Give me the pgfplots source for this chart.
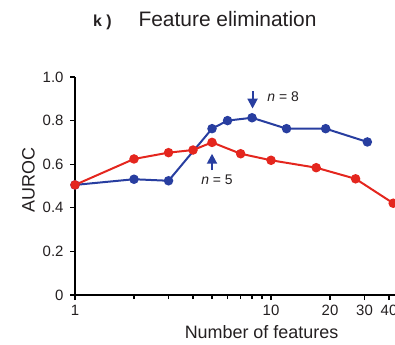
\documentclass[border=0pt]{standalone}
\usepackage{pgfplots}
\pgfplotsset{compat=1.18}
\usepackage{fontspec}
\setmainfont{Liberation Sans}
\usetikzlibrary{arrows.meta}
\definecolor{myred}{RGB}{228,38,30}
\definecolor{myblue}{RGB}{40,62,160}
\definecolor{txt}{RGB}{35,31,32}
\begin{document}
\begin{tikzpicture}[x=1bp,y=1bp]
\begin{axis}[
  at={(75bp,50bp)}, anchor=south west,
  scale only axis, width=320.2bp, height=218bp,
  xmode=log, xmin=1, xmax=43, ymin=0, ymax=1,
  axis lines*=left,
  axis line style={line width=1.5bp, -},
  xtick={1,10,20,30,40}, xticklabels={1,10,20,30,40},
  minor xtick={2,3,4,5,6,7,8,9},
  ytick={0,0.2,0.4,0.6,0.8,1.0}, yticklabels={0,0.2,0.4,0.6,0.8,1.0},
  tick align=outside, major tick length=5bp, minor tick length=4bp,
  every tick/.style={line width=1.2bp, black},
  minor tick style={line width=1.2bp, black},
  major tick style={line width=1.2bp, black},
  ticklabel style={font=\fontsize{15}{15}\selectfont, text=txt},
  /pgf/number format/assume math mode=true,
  xticklabel style={yshift=-2bp},
  yticklabel style={xshift=-3bp},
]
\addplot[myblue, line width=2bp, mark=*, mark size=3.7bp, mark options={solid}] coordinates {
 (1,0.505) (2,0.531) (3,0.524) (5,0.763) (6,0.800) (8,0.813) (12,0.763) (19,0.763) (31,0.702)};
\addplot[myred, line width=2bp, mark=*, mark size=3.7bp, mark options={solid}] coordinates {
 (1,0.505) (2,0.624) (3,0.653) (4,0.665) (5,0.700) (7,0.648) (10,0.618) (17,0.584) (27,0.533) (42,0.421)};
\draw[myblue, line width=2bp, -{Triangle[width=10bp,length=10bp]}] (axis cs:8.05,0.935) -- (axis cs:8.05,0.855);
\draw[myblue, line width=2bp, -{Triangle[width=10bp,length=10bp]}] (axis cs:5,0.573) -- (axis cs:5,0.648);
\node[anchor=west, font=\fontsize{14}{14}\selectfont, text=txt] at (axis cs:9.2,0.91) {\textit{n} = 8};
\node[anchor=center, font=\fontsize{14}{14}\selectfont, text=txt] at (axis cs:5.3,0.53) {\textit{n} = 5};
\end{axis}
\node[anchor=base west, font=\fontsize{16}{16}\selectfont\bfseries, text=txt, inner sep=0] at (93,318.3) {k )};
\node[anchor=base, font=\fontsize{21}{21}\selectfont, text=txt, inner sep=0] at (227.5,318.3) {Feature elimination};
\node[rotate=90, font=\fontsize{18}{18}\selectfont, text=txt] at (28.5,165) {AUROC};
\node[anchor=base, font=\fontsize{18}{18}\selectfont, text=txt, inner sep=0] at (261.5,7) {Number of features};
\pgfresetboundingbox
\path[use as bounding box] (0,0) rectangle (395,345);
\end{tikzpicture}
\end{document}
